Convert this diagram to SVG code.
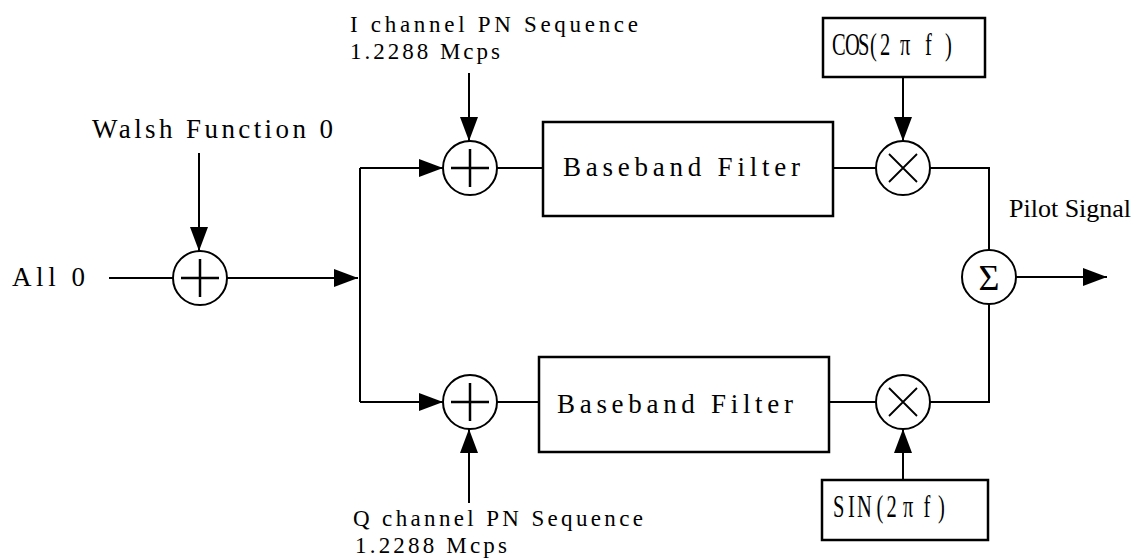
<svg xmlns="http://www.w3.org/2000/svg" width="1144" height="559" viewBox="0 0 1144 559">
<style>
.lbl{font-family:"Liberation Serif","Times New Roman",serif;font-size:23px;fill:#000}
.ser{font-family:"Liberation Serif","Times New Roman",serif;fill:#000}
.box{fill:#fff;stroke:#000;stroke-width:2.5}
.node{fill:#fff;stroke:#000;stroke-width:2}
.sym{stroke:#000;stroke-width:2.5;fill:none}
.thin{stroke:#000;stroke-width:1.8;fill:none}
.wire{stroke:#000;stroke-width:2;fill:none}
.arr{marker-end:url(#ah)}
</style>
<defs>
<marker id="ah" viewBox="0 0 24 18" refX="24" refY="9" markerWidth="24" markerHeight="18" markerUnits="userSpaceOnUse" orient="auto">
<path d="M0,0 L24,9 L0,18 Z" fill="#000"/>
</marker>
</defs>
<g id="connectors">
<path class="wire" d="M109,278 H173"/>
<path class="wire arr" d="M199,153 V251"/>
<path class="wire arr" d="M227,278 H358"/>
<path class="wire" d="M360,168 V402"/>
<path class="wire arr" d="M360,168 H443"/>
<path class="wire arr" d="M360,402 H443"/>
<path class="wire arr" d="M469,73 V141"/>
<path class="wire" d="M497,168 H543"/>
<path class="wire" d="M833,168 H876"/>
<path class="wire arr" d="M903,77 V141"/>
<path class="wire" d="M930,168 H989 V250"/>
<path class="wire arr" d="M1016,277 H1107"/>
<path class="wire" d="M497,402 H539"/>
<path class="wire" d="M829,402 H876"/>
<path class="wire" d="M930,402 H989 V304"/>
<path class="wire arr" d="M469,503 V429"/>
<path class="wire arr" d="M903,480 V429"/>
</g>
<g id="all0"><text class="lbl" x="12" y="286" style="font-size:27px" textLength="73" lengthAdjust="spacing">All 0</text></g>
<g id="walsh"><text class="lbl" x="92" y="138" style="font-size:27px" textLength="241" lengthAdjust="spacing">Walsh Function 0</text></g>
<g id="ipn">
<text class="lbl" x="350" y="32" textLength="288" lengthAdjust="spacing">I channel PN Sequence</text>
<text class="lbl" x="350" y="59" textLength="150" lengthAdjust="spacing">1.2288 Mcps</text>
</g>
<g id="qpn">
<text class="lbl" x="353" y="526" textLength="290" lengthAdjust="spacing">Q channel PN Sequence</text>
<text class="lbl" x="355" y="553" textLength="152" lengthAdjust="spacing">1.2288 Mcps</text>
</g>
<g id="adder0">
<circle class="node" cx="200" cy="278" r="27"/>
<path class="sym" d="M181,278 H219 M200,259 V297"/>
</g>
<g id="adder1">
<circle class="node" cx="470" cy="168" r="27"/>
<path class="sym" d="M451,168 H489 M470,149 V187"/>
</g>
<g id="adder2">
<circle class="node" cx="470" cy="402" r="27"/>
<path class="sym" d="M451,402 H489 M470,383 V421"/>
</g>
<g id="filter1">
<rect class="box" x="543" y="122" width="290" height="94"/>
<text class="lbl" x="563" y="176" style="font-size:27px" textLength="237" lengthAdjust="spacing">Baseband Filter</text>
</g>
<g id="filter2">
<rect class="box" x="539" y="357" width="290" height="95"/>
<text class="lbl" x="557" y="413" style="font-size:27px" textLength="236" lengthAdjust="spacing">Baseband Filter</text>
</g>
<g id="mult1">
<circle class="node" cx="903" cy="168" r="27"/>
<path class="thin" d="M889,154 L917,182 M917,154 L889,182"/>
</g>
<g id="mult2">
<circle class="node" cx="903" cy="402" r="27"/>
<path class="thin" d="M889,388 L917,416 M917,388 L889,416"/>
</g>
<g id="cos">
<rect class="box" x="823" y="18" width="162" height="59"/>
<text class="ser" style="font-size:31px" transform="translate(832,55) scale(0.66,1)" x="0 19.7 39.4 57.6 72.7 103 140.9 171.2" y="0">COS(2πf)</text>
</g>
<g id="sin">
<rect class="box" x="822" y="480" width="166" height="60"/>
<text class="ser" style="font-size:31px" transform="translate(833,517) scale(0.66,1)" x="0 22.7 36.4 66 81 106 137 159" y="0">SIN(2πf)</text>
</g>
<g id="sum">
<circle class="node" cx="989" cy="277" r="27"/>
<text class="ser" style="font-size:36px" x="989" y="290" text-anchor="middle">Σ</text>
</g>
<g id="pilot"><text class="ser" style="font-size:26px" x="1009" y="217">Pilot Signal</text></g>
</svg>
